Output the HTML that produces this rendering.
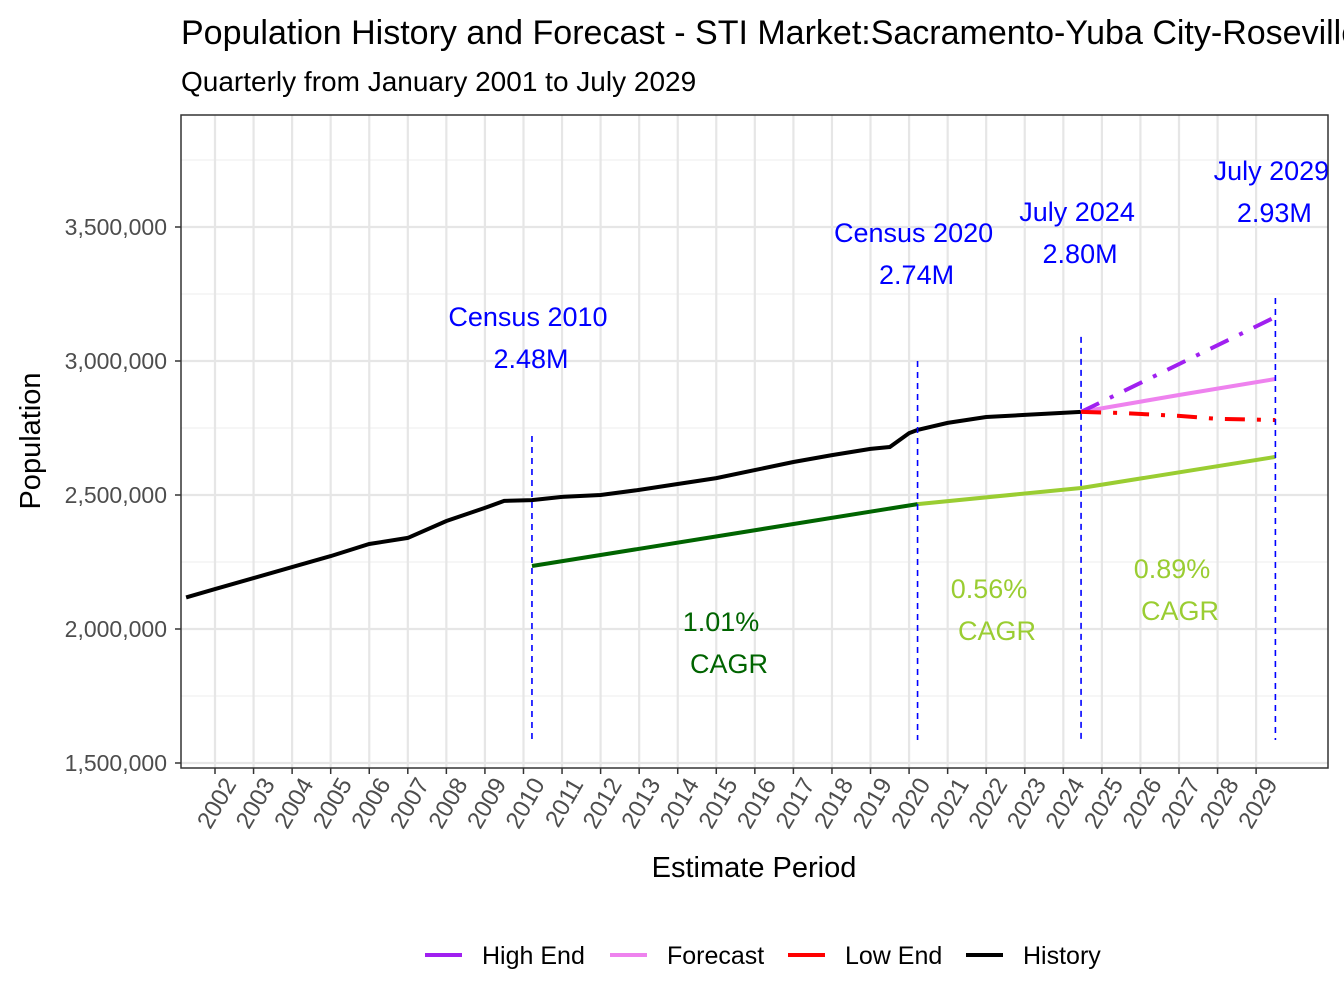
<!DOCTYPE html>
<html><head><meta charset="utf-8"><style>body{margin:0;background:#fff}svg{display:block;font-family:"Liberation Sans",Arial,sans-serif}</style></head>
<body>
<svg id="chart" width="1344" height="1008" viewBox="0 0 1344 1008">
<text x="181" y="44" font-size="34" fill="#000">Population History and Forecast - STI Market:Sacramento-Yuba City-Roseville</text>
<text x="181" y="91" font-size="28" fill="#000">Quarterly from January 2001 to July 2029</text>
<g id="plot"></g>
<text x="754" y="877" font-size="29" text-anchor="middle">Estimate Period</text>
<text transform="translate(40,441) rotate(-90)" font-size="29" text-anchor="middle">Population</text>
<g id="legend"></g>
</svg>
<script>
const histT=[2001.25,2002,2003,2004,2005,2006,2007,2008,2009,2009.5,2010.22,2011,2012,2013,2014,2015,2016,2017,2018,2019,2019.5,2020,2020.22,2021,2022,2023,2024.46];
const histV=[2118000,2149000,2190000,2231000,2272000,2317000,2340000,2403000,2452000,2478000,2481000,2493000,2500000,2519000,2541000,2563000,2593000,2623000,2649000,2672000,2679000,2731000,2743000,2769000,2791000,2799000,2810000];
const fcT=[2024.46,2027,2029.5];
const fcV=[2810000,2873000,2933000];
const highT=[2024.46,2029.5];
const highV=[2810000,3164000];
const lowT=[2024.46,2025.5,2027,2028,2029.5];
const lowV=[2810000,2806000,2795000,2784000,2780000];
const cagr1T=[2010.22,2020.22];
const cagr1V=[2235000,2466000];
const cagr2T=[2020.22,2024.46,2029.5];
const cagr2V=[2466000,2526000,2642000];
const yTicks=[1500000,2000000,2500000,3000000,3500000];
const years=[2002,2003,2004,2005,2006,2007,2008,2009,2010,2011,2012,2013,2014,2015,2016,2017,2018,2019,2020,2021,2022,2023,2024,2025,2026,2027,2028,2029];
const events=[{t:2010.22,top:2720000,l1:"Census 2010",l2:"2.48M",ly:316},{t:2020.22,top:3000000,l1:"Census 2020",l2:"2.74M",ly:232},{t:2024.46,top:3090000,l1:"July 2024",l2:"2.80M",ly:211},{t:2029.5,top:3235000,l1:"July 2029",l2:"2.93M",ly:170}];
const X=t=>215+(t-2002)*38.56;
const Y=v=>763-(v-1500000)/500000*134;
const NS="http://www.w3.org/2000/svg";
const plot=document.getElementById('plot');
function mk(tag,attrs,parent){const e=document.createElementNS(NS,tag);for(const k in attrs)e.setAttribute(k,attrs[k]);(parent||plot).appendChild(e);return e;}
const L=181,T=115,R=1328,B=768;
for(let v=1750000;v<=3750000;v+=500000){const g=mk('line',{x1:L,x2:R,y1:Y(v),y2:Y(v),stroke:'#ececec','stroke-width':1});}
yTicks.forEach(v=>{const g=mk('line',{x1:L,x2:R,y1:Y(v),y2:Y(v),stroke:'#e6e6e6','stroke-width':2.2});
const tk=mk('line',{x1:L-6,x2:L,y1:Y(v),y2:Y(v),stroke:'#333','stroke-width':1.5});
const tx=mk('text',{x:L-14,y:Y(v)+8,'font-size':23,fill:'#4d4d4d','text-anchor':'end'});tx.textContent=v.toLocaleString('en-US');});
years.forEach(yr=>{const x=X(yr);const g=mk('line',{x1:x,x2:x,y1:T,y2:B,stroke:'#e6e6e6','stroke-width':2.2});
const tk=mk('line',{x1:x,x2:x,y1:B,y2:B+6,stroke:'#333','stroke-width':1.5});
const tx=mk('text',{x:0,y:0,'font-size':24,fill:'#4d4d4d','text-anchor':'end',transform:`translate(${x+22},${B+16}) rotate(-60)`});tx.textContent=yr;});
function path(ts,vs,color,w,dash,name){const d=ts.map((t,i)=>(i?'L':'M')+X(t).toFixed(1)+','+Y(vs[i]).toFixed(1)).join('');const p=mk('path',{d:d,fill:'none',stroke:color,'stroke-width':w});if(dash)p.setAttribute('stroke-dasharray',dash);}
path(cagr1T,cagr1V,'#006400',4,null,'cagr-2010-2020-line');
path(cagr2T,cagr2V,'#9acd32',4,null,'cagr-2020-2029-line');
path(histT,histV,'#000',4,null,'history-line');
path(fcT,fcV,'#ee82ee',4,null,'forecast-line');
path(highT,highV,'#a020f0',4,'20,12,4,12','high-end-line');
path(lowT,lowV,'#ff0000',4,'20,12,4,12','low-end-line');
events.forEach(e=>{const x=X(e.t);const l=mk('line',{x1:x,x2:x,y1:Y(e.top),y2:740,stroke:'#0000ff','stroke-width':1.6,'stroke-dasharray':'6,5'});
const a=mk('text',{x:x-4,y:e.ly+10,'font-size':27,fill:'#0000ff','text-anchor':'middle'});a.textContent=e.l1;
const b=mk('text',{x:x-1,y:e.ly+52,'font-size':27,fill:'#0000ff','text-anchor':'middle'});b.textContent=e.l2;});
[[721,631,'1.01%','#006400'],[729,673,' CAGR','#006400'],[989,598,'0.56%','#9acd32'],[997,640,' CAGR','#9acd32'],[1172,578,'0.89%','#9acd32'],[1180,620,' CAGR','#9acd32']].forEach(c=>{const t=mk('text',{x:c[0],y:c[1],'font-size':27,fill:c[3],'text-anchor':'middle'});t.textContent=c[2];});
const fr=mk('rect',{x:L,y:T,width:R-L,height:B-T,fill:'none',stroke:'#333','stroke-width':1.5});
const lg=document.getElementById('legend');
[['High End','#a020f0',425],['Forecast','#ee82ee',610],['Low End','#ff0000',788],['History','#000',966]].forEach(e=>{const g=mk('g',{},lg);
mk('line',{x1:e[2],x2:e[2]+37,y1:955,y2:955,stroke:e[1],'stroke-width':4},g);const t=mk('text',{x:e[2]+57,y:964,'font-size':25},g);t.textContent=e[0];});
</script>
</body></html>
